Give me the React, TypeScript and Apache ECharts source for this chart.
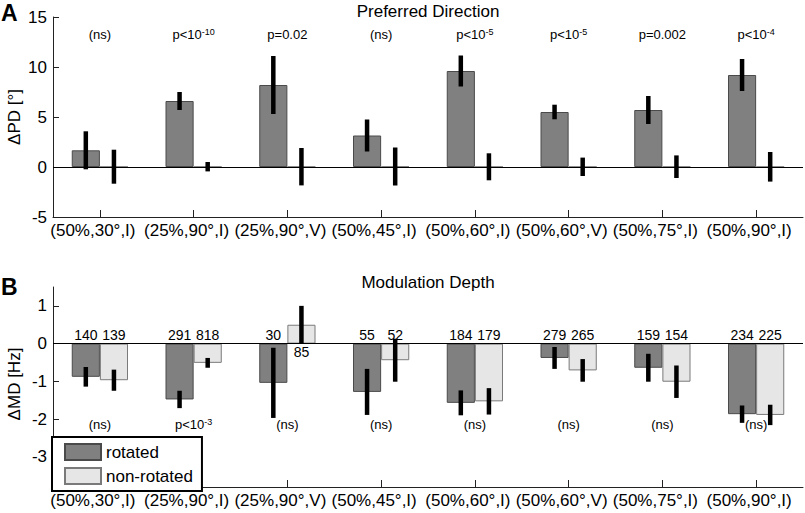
import React, { useEffect, useRef } from "react";
import * as echarts from "echarts";

const categories = [
  "(50%,30°,I)",
  "(25%,90°,I)",
  "(25%,90°,V)",
  "(50%,45°,I)",
  "(50%,60°,I)",
  "(50%,60°,V)",
  "(50%,75°,I)",
  "(50%,90°,I)",
];

// Panel A: preferred direction change (degrees)
const pdRotated = [1.67, 6.6, 8.2, 3.15, 9.6, 5.5, 5.7, 9.2];
const pdRotatedErr = [1.9, 0.9, 2.9, 1.6, 1.55, 0.73, 1.4, 1.6];
const pdNonRotated = [0.03, 0.03, 0.03, 0.05, 0.02, 0.02, 0.03, 0.02];
const pdNonRotatedErr = [1.7, 0.47, 1.87, 1.9, 1.35, 0.92, 1.13, 1.48];
const pdSignificance = ["(ns)", "p<10^-10", "p=0.02", "(ns)", "p<10^-5", "p<10^-5", "p=0.002", "p<10^-4"];
const pdTicks = [-5, 0, 5, 10, 15];

// Panel B: modulation depth change (Hz)
const mdRotated = [-0.88, -1.48, -1.04, -1.28, -1.57, -0.38, -0.64, -1.87];
const mdRotatedErr = [0.26, 0.23, 0.93, 0.61, 0.33, 0.29, 0.37, 0.23];
const mdNonRotated = [-0.97, -0.51, 0.5, -0.44, -1.53, -0.71, -1.01, -1.89];
const mdNonRotatedErr = [0.28, 0.13, 0.5, 0.57, 0.35, 0.3, 0.43, 0.27];
const mdRotatedN = [140, 291, 30, 55, 184, 279, 159, 234];
const mdNonRotatedN = [139, 818, 85, 52, 179, 265, 154, 225];
const mdSignificance = ["(ns)", "p<10^-3", "(ns)", "(ns)", "(ns)", "(ns)", "(ns)", "(ns)"];
const mdTicks = [-3, -2, -1, 0, 1];

const FONT = "Liberation Sans";
const AXIS = "#222";
const DARK = "#808080";
const DARK_BORDER = "#4a4a4a";
const LIGHT = "#e6e6e6";
const LIGHT_BORDER = "#7a7a7a";

const toRich = (s: string) => s.replace(/\^(.+)$/, "{sup|$1}");

function errorSeries(gi: number, vals: number[], errs: number[], sign: number) {
  return {
    type: "custom",
    xAxisIndex: gi,
    yAxisIndex: gi,
    z: 5,
    silent: true,
    encode: { x: 0, y: [1, 2] },
    data: vals.map((v, i) => [i, v - errs[i], v + errs[i], sign]),
    renderItem: (_p: any, api: any) => {
      const i = api.value(0);
      const lo = api.coord([i, api.value(1)]);
      const hi = api.coord([i, api.value(2)]);
      const bw = api.size([1, 0])[0];
      const x = lo[0] + api.value(3) * bw * 0.15;
      return {
        type: "rect",
        shape: { x: x - 2.25, y: hi[1], width: 4.5, height: lo[1] - hi[1] },
        style: { fill: "#000" },
      };
    },
  };
}

function sigSeries(gi: number, labels: string[], yVal: number) {
  return {
    type: "custom",
    xAxisIndex: gi,
    yAxisIndex: gi,
    z: 6,
    silent: true,
    encode: { x: 0, y: 1 },
    data: labels.map((_, i) => [i, yVal]),
    renderItem: (p: any, api: any) => {
      const pt = api.coord([api.value(0), api.value(1)]);
      return {
        type: "text",
        x: pt[0],
        y: pt[1],
        style: {
          text: toRich(labels[p.dataIndex]),
          fontSize: 13,
          fontFamily: FONT,
          fill: "#000",
          align: "center",
          verticalAlign: "middle",
          rich: { sup: { fontSize: 9, fontFamily: FONT, fill: "#000", verticalAlign: "top", padding: [0, 0, 4, 0] } },
        },
      };
    },
  };
}

function countSeries(counts: number[], vals: number[], sign: number) {
  return {
    type: "custom",
    xAxisIndex: 1,
    yAxisIndex: 1,
    z: 6,
    silent: true,
    encode: { x: 0, y: 1 },
    data: counts.map((n, i) => [i, vals[i], n]),
    renderItem: (_p: any, api: any) => {
      const i = api.value(0);
      const pt = api.coord([i, 0]);
      const bw = api.size([1, 0])[0];
      const above = api.value(1) <= 0;
      return {
        type: "text",
        x: pt[0] + sign * bw * 0.15,
        y: pt[1] + (above ? -8.3 : 8.4),
        style: {
          text: String(api.value(2)),
          fontSize: 14,
          fontFamily: FONT,
          fill: "#000",
          align: "center",
          verticalAlign: "middle",
        },
      };
    },
  };
}

const zeroLine = {
  silent: true,
  symbol: ["none", "none"],
  label: { show: false },
  lineStyle: { color: "#000", width: 1, type: "solid" },
  data: [{ yAxis: 0 }],
};

function makeXAxis(gi: number) {
  return {
    type: "category",
    gridIndex: gi,
    data: categories,
    boundaryGap: true,
    axisLine: { show: true, onZero: false, lineStyle: { color: AXIS, width: 1 } },
    axisTick: { show: true, inside: true, alignWithLabel: true, length: 7, lineStyle: { color: AXIS } },
    axisLabel: { color: "#000", fontSize: 17, fontFamily: FONT, margin: 5, padding: [0, 14, 0, 0], interval: 0 },
    splitLine: { show: false },
  };
}

const option: any = {
  animation: false,
  backgroundColor: "#fff",
  textStyle: { fontFamily: FONT },
  grid: [
    { left: 53, right: 2, top: 17, height: 200 },
    { left: 53, right: 2, top: 287, height: 200 },
  ],
  xAxis: [makeXAxis(0), makeXAxis(1)],
  yAxis: [
    {
      type: "value",
      gridIndex: 0,
      min: pdTicks[0],
      max: pdTicks[pdTicks.length - 1],
      interval: 5,
      axisLine: { show: true, lineStyle: { color: AXIS, width: 1 } },
      axisTick: { show: true, inside: true, length: 6, lineStyle: { color: AXIS } },
      axisLabel: { color: "#000", fontSize: 17, fontFamily: FONT, margin: 6 },
      splitLine: { show: false },
    },
    {
      type: "value",
      gridIndex: 1,
      min: -3.8,
      max: 1.5,
      axisLine: { show: true, lineStyle: { color: AXIS, width: 1 } },
      axisTick: { show: true, inside: true, length: 6, lineStyle: { color: AXIS }, customValues: mdTicks },
      axisLabel: { color: "#000", fontSize: 17, fontFamily: FONT, margin: 6, customValues: mdTicks },
      splitLine: { show: false },
    },
  ],
  legend: {
    data: ["rotated", "non-rotated"],
    orient: "vertical",
    left: 52,
    top: 437,
    itemWidth: 36,
    itemHeight: 16,
    itemGap: 6,
    padding: [6, 9, 6, 12],
    borderColor: "#000",
    borderWidth: 2,
    backgroundColor: "#fff",
    selectedMode: false,
    icon: "rect",
    textStyle: { fontSize: 17, fontFamily: FONT, color: "#000" },
  },
  graphic: [
    { type: "text", left: 1, top: 1, style: { text: "A", fontSize: 23, fontWeight: "bold", fontFamily: FONT, fill: "#000" } },
    { type: "text", left: 1, top: 275, style: { text: "B", fontSize: 23, fontWeight: "bold", fontFamily: FONT, fill: "#000" } },
    { type: "text", x: 428, y: 11.5, style: { text: "Preferred Direction", fontSize: 17, fontFamily: FONT, fill: "#000", align: "center", verticalAlign: "middle" } },
    { type: "text", x: 428, y: 282, style: { text: "Modulation Depth", fontSize: 17, fontFamily: FONT, fill: "#000", align: "center", verticalAlign: "middle" } },
    { type: "text", x: 14, y: 117, rotation: Math.PI / 2, style: { text: "ΔPD [°]", fontSize: 17, fontFamily: FONT, fill: "#000", align: "center", verticalAlign: "middle" } },
    { type: "text", x: 14, y: 384, rotation: Math.PI / 2, style: { text: "ΔMD [Hz]", fontSize: 17, fontFamily: FONT, fill: "#000", align: "center", verticalAlign: "middle" } },
  ],
  series: [
    {
      type: "bar",
      name: "rotated",
      xAxisIndex: 0,
      yAxisIndex: 0,
      data: pdRotated,
      barWidth: "30%",
      barGap: "0%",
      silent: true,
      itemStyle: { color: DARK, borderColor: DARK_BORDER, borderWidth: 1 },
      markLine: zeroLine,
    },
    {
      type: "bar",
      name: "non-rotated",
      xAxisIndex: 0,
      yAxisIndex: 0,
      data: pdNonRotated,
      barWidth: "30%",
      barGap: "0%",
      silent: true,
      itemStyle: { color: LIGHT, borderColor: LIGHT_BORDER, borderWidth: 1 },
    },
    {
      type: "bar",
      name: "rotated",
      xAxisIndex: 1,
      yAxisIndex: 1,
      data: mdRotated,
      barWidth: "30%",
      barGap: "0%",
      silent: true,
      itemStyle: { color: DARK, borderColor: DARK_BORDER, borderWidth: 1 },
      markLine: zeroLine,
    },
    {
      type: "bar",
      name: "non-rotated",
      xAxisIndex: 1,
      yAxisIndex: 1,
      data: mdNonRotated,
      barWidth: "30%",
      barGap: "0%",
      silent: true,
      itemStyle: { color: LIGHT, borderColor: LIGHT_BORDER, borderWidth: 1 },
    },
    errorSeries(0, pdRotated, pdRotatedErr, -1),
    errorSeries(0, pdNonRotated, pdNonRotatedErr, 1),
    errorSeries(1, mdRotated, mdRotatedErr, -1),
    errorSeries(1, mdNonRotated, mdNonRotatedErr, 1),
    sigSeries(0, pdSignificance, 13.3),
    sigSeries(1, mdSignificance, -2.14),
    countSeries(mdRotatedN, mdRotated, -1),
    countSeries(mdNonRotatedN, mdNonRotated, 1),
  ],
};

export default function App() {
  const ref = useRef<HTMLDivElement>(null);
  useEffect(() => {
    const chart = echarts.init(ref.current as HTMLDivElement, null, { renderer: "svg" });
    chart.setOption(option);
    return () => chart.dispose();
  }, []);
  return (
    <div
      ref={ref}
      style={{ position: "absolute", left: 0, top: 0, width: 805, height: 513, background: "#fff" }}
    />
  );
}
